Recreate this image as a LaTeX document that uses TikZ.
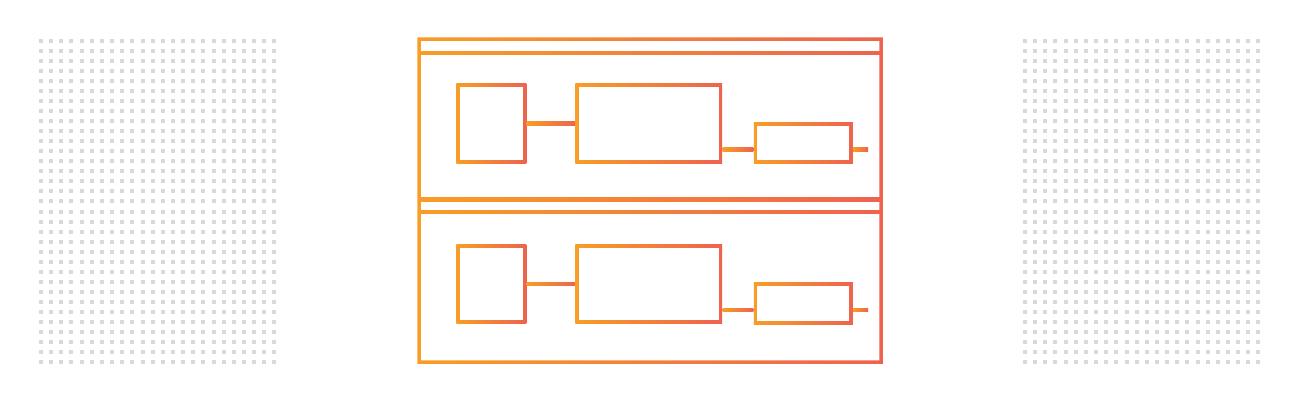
\documentclass[tikz,border=0pt]{standalone}
\usetikzlibrary{calc}
\definecolor{gOrange}{RGB}{248,157,38}
\definecolor{gRed}{RGB}{238,99,78}
\definecolor{dotGray}{RGB}{217,217,217}
\tikzset{
  grad/.style={left color=gOrange,right color=gRed},
  blk/.style={rectangle,inner sep=0pt,grad,
    path picture={\fill[white] ([shift={(2pt,2pt)}]path picture bounding box.south west)
      rectangle ([shift={(-2pt,-2pt)}]path picture bounding box.north east);}},
}
\begin{document}
\begin{tikzpicture}[x=0.02cm,y=-0.02cm]
\useasboundingbox (0,0) rectangle (1300,400);
% dot grids left and right
\foreach \gx in {39,1023}
  \foreach \i in {0,...,23}
    \foreach \j in {0,...,32}
      \fill[dotGray] (\gx+\i*10.15,39+\j*10.03) rectangle ++(4,4);
% outer frame and header strips
\shade[grad,even odd rule] (417.25,37.25) rectangle (882.75,363.75)
  (420.75,40.75) rectangle (879.25,360.25);
\foreach \hy in {53,199.5,212}
  \shade[grad] (419,\hy-1.75) rectangle (881,\hy+1.75);
% two rows of blocks
\foreach \r/\cy in {A/123.5,B/284}{
  \node[blk,minimum width=1.4cm,minimum height=1.59cm] (sq\r) at (491.25,\cy) {};
  \node[blk,minimum width=2.94cm,minimum height=1.59cm] (big\r) at (648.75,\cy) {};
  \node[blk,minimum width=1.98cm,minimum height=0.825cm] (sm\r) at (803.25,\cy+19.4) {};
  \coordinate (in\r) at ($(sm\r.south west)+(0,-14.25)$);
  \coordinate (out\r) at ($(sm\r.east |- in\r)+(15,0)$);
  \shade[grad] ($(sq\r.east)+(0,-1.75)$) rectangle ($(big\r.west)+(0,1.75)$);
  \shade[grad] ($(big\r.east |- in\r)+(0,-1.75)$) rectangle ($(in\r)+(0,1.75)$);
  \shade[grad] ($(sm\r.east |- in\r)+(0,-1.75)$) rectangle ($(out\r)+(0,1.75)$);
}
\end{tikzpicture}
\end{document}
